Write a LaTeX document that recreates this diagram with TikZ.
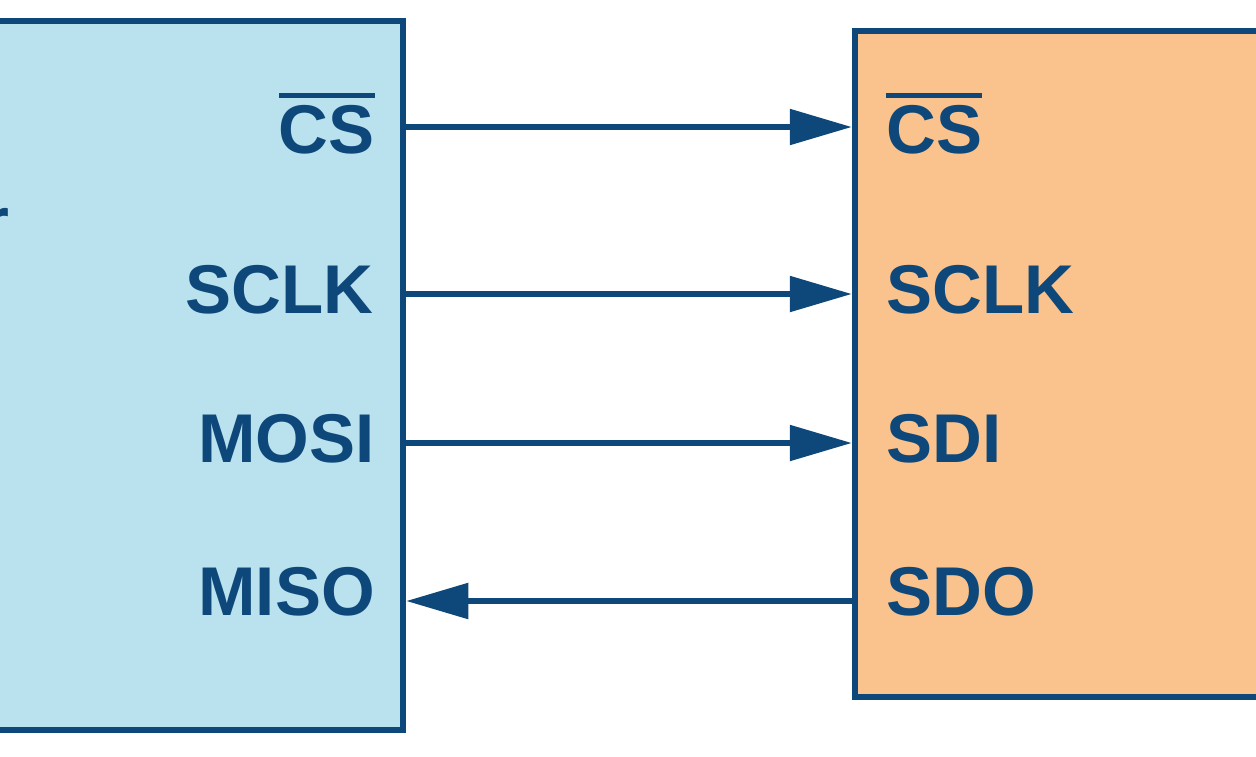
\documentclass[tikz,border=0pt]{standalone}
\usepackage{fontspec}
\setmainfont{Liberation Sans}
\usetikzlibrary{arrows.meta}
\definecolor{ink}{RGB}{14,72,122}
\definecolor{mcufill}{RGB}{185,226,238}
\definecolor{devfill}{RGB}{250,194,140}
\newcommand{\barred}[1]{\leavevmode\vbox{\hrule height 5.5pt\kern 6.5pt\hbox{#1}}}
\tikzset{
  chip/.style={draw=ink, line width=6.5pt, inner sep=0pt, outer sep=3.25pt},
  pinlbl/.style={text=ink, inner sep=0pt, font=\fontsize{69}{69}\selectfont\bfseries},
  sig/.style={draw=ink, line width=5.5pt, -{Triangle[length=62pt,width=35pt]}}
}
\begin{document}
\begin{tikzpicture}[x=1pt,y=-1pt]
\useasboundingbox (0,0) rectangle (1256,756);
% boxes
\node[chip, fill=mcufill, minimum width=423pt, minimum height=709pt] (L) at (191.5,375.5) {};
\node[chip, fill=devfill, minimum width=425pt, minimum height=666pt] (R) at (1067.5,364) {};
% fragment of cut-off text at left edge
\node[pinlbl, anchor=base west] (frag) at (-18,245) {r};
% left labels
\node[pinlbl, anchor=base east] (lcs) at (375,153) {\barred{CS}};
\node[pinlbl, anchor=base east] (lsclk) at (374,313) {SCLK};
\node[pinlbl, anchor=base east] (lmosi) at (375,462) {MOSI};
\node[pinlbl, anchor=base east] (lmiso) at (375,615) {MISO};
% right labels
\node[pinlbl, anchor=base west] (rcs) at (886,153) {\barred{CS}};
\node[pinlbl, anchor=base west] (rsclk) at (886,313) {SCLK};
\node[pinlbl, anchor=base west] (rsdi) at (886,462) {SDI};
\node[pinlbl, anchor=base west] (rsdo) at (886,615) {SDO};
% signal rows
\coordinate (y1) at (0,127);
\coordinate (y2) at (0,294);
\coordinate (y3) at (0,443);
\coordinate (y4) at (0,601);
\draw[sig] (L.east |- y1) -- (R.west |- y1);
\draw[sig] (L.east |- y2) -- (R.west |- y2);
\draw[sig] (L.east |- y3) -- (R.west |- y3);
\draw[sig] (R.west |- y4) -- (L.east |- y4);
\end{tikzpicture}
\end{document}
